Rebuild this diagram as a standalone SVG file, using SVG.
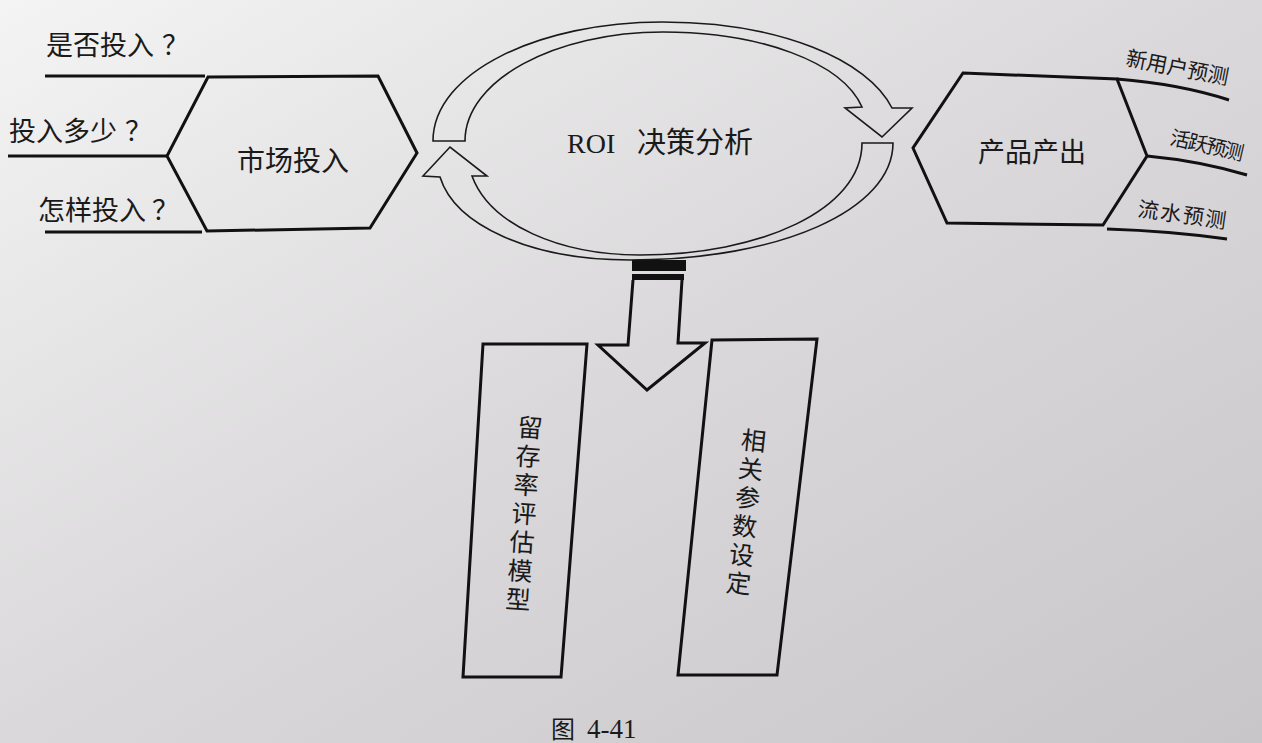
<svg xmlns="http://www.w3.org/2000/svg" width="1262" height="743" viewBox="0 0 1262 743">
<defs>
<linearGradient id="paper" x1="0" y1="0" x2="1" y2="1">
<stop offset="0" stop-color="#f4f4f4"/>
<stop offset="0.5" stop-color="#dad8da"/>
<stop offset="1" stop-color="#c9c6c9"/>
</linearGradient>
<style>
.thick{fill:none;stroke:#111;stroke-width:3;stroke-linejoin:miter}
.thin{fill:none;stroke:#1a1a1a;stroke-width:1.6;stroke-linejoin:miter}
.cjk{font-family:"Noto Sans CJK SC","Noto Sans",sans-serif;fill:#1a1a1a}
.ser{font-family:"Liberation Serif","Times New Roman",serif;fill:#1a1a1a}
.vert{writing-mode:vertical-rl;font-size:25px;letter-spacing:3.7px}
</style>
</defs>
<rect x="0" y="0" width="1262" height="743" fill="url(#paper)"/>

<g id="connectors">
<path class="thick" d="M45,76 L205,76"/>
<path class="thick" d="M8,156 L167,156"/>
<path class="thick" d="M45,232 L202,232"/>
<path class="thick" d="M1117,79 Q1180,84 1229,100"/>
<path class="thick" d="M1147,156 Q1200,161 1247,175"/>
<path class="thick" d="M1107,229 Q1170,231 1227,239"/>
<rect x="632" y="260" width="54" height="11" fill="#111"/>
<rect x="632" y="274" width="52" height="6" fill="#111"/>
<path class="thick" d="M633,280 L628,345 L598,345 L647,390 L705,343 L678,343 L682,280"/>
</g>

<g id="roi">
<path class="thin" d="M465,141 L433,141 C433,72 540,22 662,22 C780,22 868,60 892,108 L912,108 L882,137 L845,108 L862,107 C842,62 760,32 663,32 C555,32 465,80 465,141 Z"/>
<path class="thin" d="M862,143 L893,143 C893,210 780,260 630,260 C530,260 455,225 440,177 L423,176 L450,147 L487,176 L472,176 C490,225 560,255 640,255 C760,255 862,210 862,143 Z"/>
<text class="ser" x="567" y="153" font-size="28">ROI</text>
<text class="cjk" x="637" y="153" font-size="29">决策分析</text>
</g>

<g id="market-input">
<path class="thick" d="M208,77 L378,76 L417,153 L370,228 L207,231 L167,156 Z"/>
<text class="cjk" x="237" y="171" font-size="28">市场投入</text>
</g>

<g id="q1"><text class="cjk" x="46" y="55" font-size="27">是否投入<tspan dx="8">？</tspan></text></g>
<g id="q2"><text class="cjk" x="9" y="141" font-size="27">投入多少<tspan dx="8">？</tspan></text></g>
<g id="q3"><text class="cjk" x="38" y="220" font-size="27">怎样投入<tspan dx="6">？</tspan></text></g>

<g id="product-output">
<path class="thick" d="M963,73 L1117,79 L1147,156 L1103,225 L947,223 L913,148 Z"/>
<text class="cjk" x="978" y="162" font-size="27">产品产出</text>
</g>

<g id="f1"><text class="cjk" x="1125" y="65" font-size="21" textLength="104" transform="rotate(11 1125 65)">新用户预测</text></g>
<g id="f2"><text class="cjk" x="1169" y="144" font-size="20" textLength="75" transform="rotate(13 1169 144)">活跃预测</text></g>
<g id="f3"><text class="cjk" x="1137" y="216" font-size="21" textLength="89" transform="rotate(8 1137 216)">流水预测</text></g>

<g id="retention-model">
<path class="thick" d="M483,344 L587,344 L561,677 L463,677 Z"/>
<text class="cjk vert" x="531" y="415" transform="rotate(4 531 415)">留存率评估模型</text>
</g>

<g id="params">
<path class="thick" d="M712,340 L817,339 L777,675 L678,675 Z"/>
<text class="cjk vert" x="755" y="428" transform="rotate(6 755 428)">相关参数设定</text>
</g>

<g id="caption">
<text class="cjk" x="551" y="738" font-size="24">图</text>
<text class="ser" x="587" y="738" font-size="27">4-41</text>
</g>
</svg>
